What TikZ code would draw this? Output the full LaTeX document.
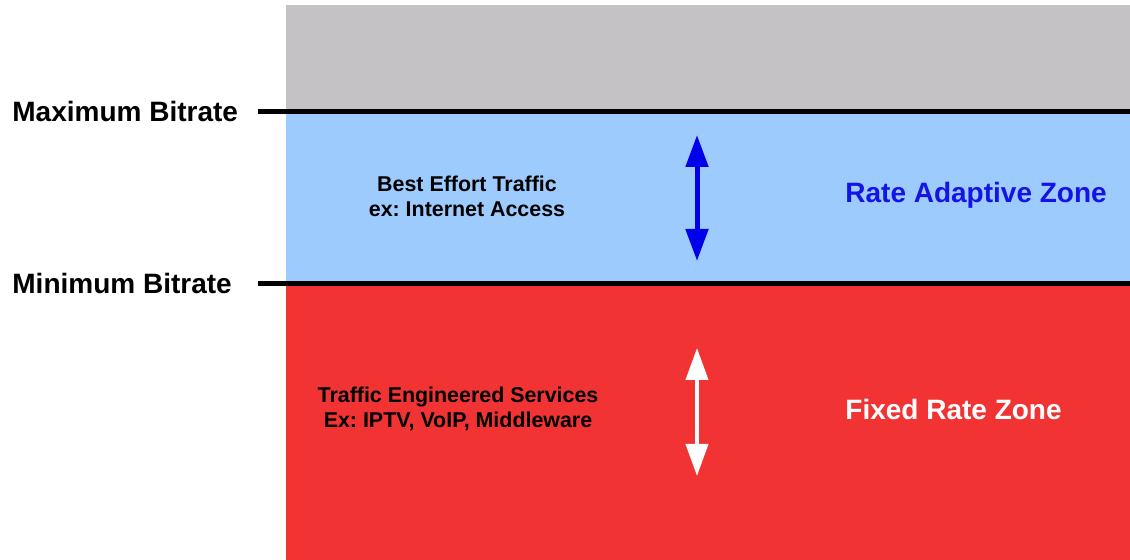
\documentclass[tikz,border=0pt]{standalone}
\usepackage{fontspec}
\setmainfont{Liberation Sans}
\usepackage{xcolor}
\definecolor{zone_gray}{RGB}{196,194,197}
\definecolor{zone_blue}{RGB}{158,203,253}
\definecolor{zone_red}{RGB}{242,51,51}
\definecolor{arrow_blue}{RGB}{0,0,235}
\definecolor{text_blue}{RGB}{20,20,230}
\usetikzlibrary{arrows.meta}
\frenchspacing

\begin{document}
\begin{tikzpicture}[x=0.5pt,y=-0.5pt,
  big/.style={font=\fontsize{14}{16}\selectfont\bfseries, inner sep=0pt},
  small/.style={font=\fontsize{10.7}{12.5}\selectfont\bfseries, align=center, inner sep=0pt},
  level/.style={line width=2.5pt},
  rangearrow/.style={line width=2.5pt, {Triangle[width=11pt,length=16pt]}-{Triangle[width=11pt,length=16pt]}}]
\useasboundingbox (0,0) rectangle (1130,560);

% zones
\fill[zone_gray] (286,5) rectangle (1130,112);
\fill[zone_blue] (286,112) rectangle (1130,284);
\fill[zone_red] (286,284) rectangle (1130,560);

% levels
\node[big, anchor=west] (maxrate) at (12,111) {Maximum Bitrate};
\node[big, anchor=west] (minrate) at (12,283) {Minimum Bitrate};
\coordinate (maxl) at (258,112);
\coordinate (maxr) at (1130,112);
\coordinate (minl) at (258,284);
\coordinate (minr) at (1130,284);
\draw[level] (maxl) -- (maxr);
\draw[level] (minl) -- (minr);

% rate adaptive zone
\node[small] (besteffort) at (467,196) {Best Effort Traffic\\ex: Internet Access};
\node[big, text=text_blue, anchor=west] (adaptive) at (845,195) {Rate Adaptive Zone};
\coordinate (bluetop) at (697,135);
\coordinate (bluebot) at (697,261);
\draw[rangearrow, arrow_blue] (bluetop) -- (bluebot);

% fixed rate zone
\node[small] (engineered) at (458,409) {Traffic Engineered Services\\Ex: IPTV, VoIP, Middleware};
\node[big, text=white, anchor=west] (fixed) at (845,409) {Fixed Rate Zone};
\coordinate (whitetop) at (697,348);
\coordinate (whitebot) at (697,476);
\draw[rangearrow, white, line width=2pt] (whitetop) -- (whitebot);

\end{tikzpicture}
\end{document}
